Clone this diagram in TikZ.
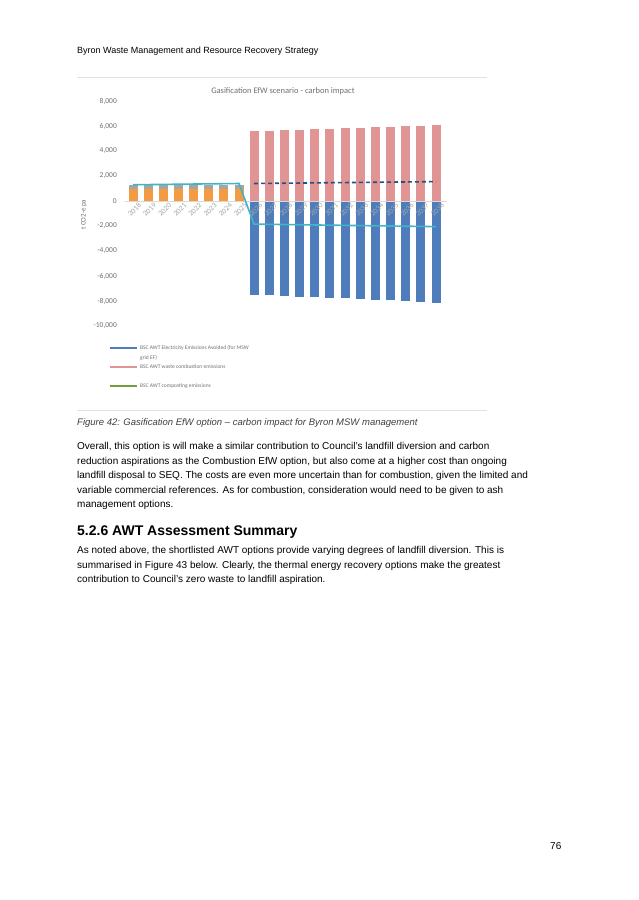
\documentclass[tikz,border=0pt]{standalone}
\usepackage{fontspec}
\setmainfont{Liberation Sans}
\newfontfamily\chartfont{Carlito}
\usetikzlibrary{positioning}
\definecolor{barblue}{HTML}{4F7DBB}
\definecolor{barpink}{HTML}{E09494}
\definecolor{barorange}{HTML}{F39A43}
\definecolor{bargrey}{HTML}{A5A5A5}
\definecolor{lineteal}{HTML}{41B5C8}
\definecolor{linedark}{HTML}{2C4F7C}
\definecolor{legendgreen}{HTML}{70A03A}
\definecolor{axisgrey}{HTML}{707070}
\begin{document}
\begin{tikzpicture}[x=1pt,y=-1pt,
  body/.style={anchor=west,inner sep=0pt,font=\fontsize{10}{12}\selectfont},
  tick/.style={anchor=east,inner sep=0pt,text=axisgrey,font=\chartfont\fontsize{7.5}{8}\selectfont},
  yr/.style={anchor=east,rotate=45,inner sep=0pt,text=black!35,font=\chartfont\fontsize{7.5}{8}\selectfont},
  leg/.style={anchor=west,inner sep=0pt,text=axisgrey,font=\chartfont\fontsize{5.5}{6}\selectfont},
  legline/.style={line width=2.5pt},
  rule/.style={draw=black!12,line width=0.6pt}
]
  \useasboundingbox[fill=white] (0,0) rectangle (638,900);

  % page header and frame rules
  \node[body,font=\fontsize{9}{11}\selectfont] (header) at (77,51) {Byron Waste Management and Resource Recovery Strategy};
  \coordinate (ruletopl) at (77,77);
  \coordinate (ruletopr) at (487,77);
  \coordinate (rulebotl) at (77,410);
  \coordinate (rulebotr) at (487,410);
  \draw[rule] (ruletopl) -- (ruletopr);
  \draw[rule] (rulebotl) -- (rulebotr);
  \node[text=axisgrey,font=\chartfont\fontsize{8.5}{10}\selectfont] (title) at (283,91) {Gasification EfW scenario - carbon impact};

  % chart, values in t CO2-e
  \begin{scope}[yshift=-201pt,y=0.0125pt]
    \foreach \v/\lab in {8000/{8,000},6000/{6,000},4000/{4,000},2000/{2,000},0/0,-2000/{-2,000},-4000/{-4,000},-6000/{-6,000},-8000/{-8,000},-10000/{-10,000}}
      \node[tick] (tick\v) at (117,\v) {\lab};
    \node[rotate=90,text=axisgrey,font=\chartfont\fontsize{7}{8}\selectfont] (ylabel) at (84,-1100) {t CO2-e pa};

    % 2018 - 2025
    \foreach \i in {0,...,7} {
      \fill[barorange] (128.5+15.15*\i,0) rectangle +(9,950);
      \fill[bargrey] (128.5+15.15*\i,950) rectangle +(9,330);
    }
    % 2026 - 2038
    \foreach \p/\n [count=\k from 8] in {5600/-7500,5620/-7550,5680/-7600,5720/-7650,5760/-7700,5790/-7750,5830/-7800,5870/-7850,5910/-7900,5950/-7950,5990/-8000,6040/-8050,6090/-8150} {
      \fill[barpink] (128.5+15.15*\k,0) rectangle +(9,\p);
      \fill[barblue] (128.5+15.15*\k,0) rectangle +(9,\n);
    }
    \draw[black!15,line width=0.6pt] (125,0) -- (447,0);
    \foreach \y [count=\k from 0] in {2018,...,2038}
      \node[yr] (yr\y) at (140+15.15*\k,-250) {\y};

    % net lines
    \coordinate (neta) at (133,1300);
    \coordinate (netb) at (239,1400);
    \coordinate (netc) at (254,-1850);
    \coordinate (netd) at (436,-2050);
    \draw[lineteal,line width=1.6pt] (neta) -- (netb) -- (netc) -- (netd);
    \coordinate (basea) at (254,1400);
    \coordinate (baseb) at (436,1550);
    \draw[linedark,line width=1.6pt,dash pattern=on 4pt off 3pt] (basea) -- (baseb);
  \end{scope}

  % legend
  \foreach \y/\c/\t [count=\k] in {348/barblue/{BSC AWT Electricity Emissions Avoided (for MSW},367/barpink/{BSC AWT waste combustion emissions},386/legendgreen/{BSC AWT composting emissions}} {
    \coordinate (legl\k) at (110,\y);
    \coordinate (legr\k) at (137,\y);
    \draw[legline,\c] (legl\k) -- (legr\k);
    \node[leg] (leg\k) at (140,\y) {\t};
  }
  \node[leg] (leg1b) at (140,358) {grid EF)};

  % caption and text
  \node[body,font=\fontsize{9.5}{11}\selectfont\itshape,text=black!75] (caption) at (77,423) {Figure 42: Gasification EfW option -- carbon impact for Byron MSW management};
  \node[body] (p1) at (77,447) {Overall, this option is will make a similar contribution to Council's landfill diversion and carbon};
  \node[body] (p2) at (77,462) {reduction aspirations as the Combustion EfW option, but also come at a higher cost than ongoing};
  \node[body] (p3) at (77,476) {landfill disposal to SEQ. The costs are even more uncertain than for combustion, given the limited and};
  \node[body] (p4) at (77,491) {variable commercial references. As for combustion, consideration would need to be given to ash};
  \node[body] (p5) at (77,505) {management options.};
  \node[body,font=\fontsize{14}{16}\selectfont\bfseries] (sec) at (77,532) {5.2.6 AWT Assessment Summary};
  \node[body] (q1) at (77,551) {As noted above, the shortlisted AWT options provide varying degrees of landfill diversion. This is};
  \node[body] (q2) at (77,566) {summarised in Figure 43 below. Clearly, the thermal energy recovery options make the greatest};
  \node[body] (q3) at (77,580) {contribution to Council's zero waste to landfill aspiration.};
  \node[body] (pageno) at (550,846) {76};
\end{tikzpicture}
\end{document}
